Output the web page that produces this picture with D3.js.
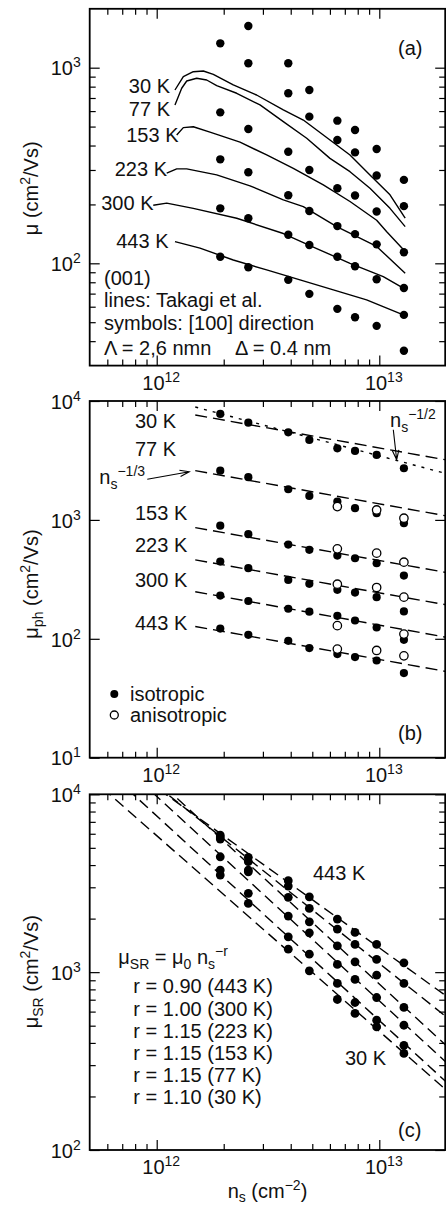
<!DOCTYPE html>
<html><head><meta charset="utf-8">
<script src="https://cdn.jsdelivr.net/npm/d3@7/dist/d3.min.js"></script>
<style>
html,body{margin:0;padding:0;background:#fff}
svg{display:block}
</style></head>
<body>
<svg id="chart" width="446" height="1206"></svg>
<script>
// ================= DATA =================
const NS = [1.93e12, 2.58e12, 3.9e12, 4.85e12, 6.48e12, 7.78e12, 9.73e12, 1.29e13];
const TEMPS = ["30 K", "77 K", "153 K", "223 K", "300 K", "443 K"];
const X_MAJOR = [1e12, 1e13];
const Y_MAJOR_A = [1e2, 1e3];
const Y_MAJOR_B = [1e1, 1e2, 1e3, 1e4];
const Y_MAJOR_C = [1e2, 1e3, 1e4];

// (a) symbols: [100] direction
const symA_30  = [null, 1633, 1053, 769, 536, 480, 384, 267];
const symA_77  = [1332, 1053, 740, 562, 427, 369, 281, 196];
const symA_153 = [591, 486, 372, 300, 242, 222, 184, 114];
const symA_223 = [340, 292, 223, 185, 155, 141, 125, 74.8];
const symA_300 = [191, 170, 140, 124, 108, 96.6, 82.9, 54.5];
const symA_443 = [108, 95.5, 82.3, 69.8, 58.5, 53.0, 47.9, 35.7];

// (a) lines: Takagi et al. [ns, mu]
const takagi_30  = [[1.208e12,769],[1.317e12,900],[1.46e12,954],[1.62e12,962],[1.796e12,925],[2.208e12,816],[2.81e12,725],[3.705e12,608],[4.557e12,540],[6.004e12,427],[7.385e12,358],[9.08e12,283],[1.117e13,224],[1.307e13,170]];
const takagi_77  = [[1.208e12,645],[1.295e12,785],[1.364e12,855],[1.512e12,883],[1.677e12,865],[1.86e12,809],[2.288e12,740],[2.911e12,645],[3.705e12,530],[4.72e12,436],[6.004e12,344],[7.385e12,294],[9.08e12,242],[1.117e13,191],[1.307e13,154]];
const takagi_153 = [[1.23e12,453],[1.317e12,494],[1.46e12,499],[1.735e12,468],[2.367e12,416],[3.119e12,358],[4.109e12,306],[5.603e12,252],[7.385e12,207],[9.73e12,166],[1.08e13,145],[1.307e13,115]];
const takagi_223 = [[1.109e12,289],[1.23e12,304],[1.364e12,304],[1.86e12,283],[2.625e12,249],[3.705e12,211],[4.557e12,195],[6.436e12,154],[9.73e12,122],[1.307e13,89]];
const takagi_300 = [[9.65e11,198],[1.109e12,203],[1.46e12,191],[2.288e12,170],[3.705e12,142],[5.234e12,119],[7.385e12,100],[1.042e13,85.5],[1.282e13,74.6]];
const takagi_443 = [[1.208e12,129],[1.565e12,119.5],[2.208e12,104],[3.119e12,92.5],[4.403e12,82.3],[6.216e12,73.1],[8.77e12,65],[1.282e13,54.5]];

// (b) phonon mobility, isotropic (filled)
const isoB_30  = [7780, 6570, 5457, 4703, 4003, 3802, 3516, 2720];
const isoB_77  = [2596, 2286, 1811, 1591, 1425, 1254, 1138, 938];
const isoB_153 = [895, 758, 620, 560, 501, 476, 432, 340];
const isoB_223 = [446, 393, 313, 290, 258, 245, 224, 170];
const isoB_300 = [231, 208, 179, 169, 156, 142.6, 124.5, 98.1];
const isoB_443 = [122, 108, 96.2, 83.5, 74.4, 70.2, 65.7, 51.5];
// (b) anisotropic (open)
const NS_ANISO = [6.48e12, 9.73e12, 1.29e13];
const anisoB_77  = [1294, 1213, 1033];
const anisoB_153 = [571, 525, 441];
const anisoB_223 = [288, 270, 224];
const anisoB_300 = [129, null, 109.5];
const anisoB_443 = [81.9, 79.8, 71.9];
// (b) fit lines: ns^-1/3 (dashed), ns^-1/2 (dotted), values at FIT_B_NS
const FIT_B_NS = [1.49e12, 2e13];
const fitB_30  = [7628, 3192];
const fitB_77  = [2596, 1080];
const fitB_153 = [861, 361];
const fitB_223 = [461, 193];
const fitB_300 = [249, 103];
const fitB_443 = [127, 53.1];
const dotB_30  = [8900, 2450];

// (c) surface roughness mobility
const srC_443 = [5902, 4421, 3266, 2653, 1987, 1673, 1432, 1128];
const srC_300 = [5750, 4178, 3048, 2283, 1746, 1432, 1179, 864];
const srC_223 = [5600, 3750, 2633, 1919, 1406, 1143, 962, 633];
const srC_153 = [4454, 3668, 2066, 1664, 1105, 910, 720, 503];
const srC_77  = [3750, 2773, 1580, 1262, 864, 675, 537, 388];
const srC_30  = [3515, 2436, 1347, 1017, 702, 586, 492, 349];
// (c) fit lines mu0 ns^-r, values at FIT_C_NS
const FIT_C_NS = [5e11, 2e13];
const fitC_443 = [20306, 734];
const fitC_300 = [22400, 560];
const fitC_223 = [26830, 386];
const fitC_153 = [21627, 311];
const fitC_77  = [16769, 241];
const fitC_30  = [12548, 217];
const R_TEXT = ["r = 0.90 (443 K)", "r = 1.00 (300 K)", "r = 1.15 (223 K)", "r = 1.15 (153 K)", "r = 1.15 (77 K)", "r = 1.10 (30 K)"];

// ================= RENDER =================
const svg = d3.select("#chart");
const FONT = "'Liberation Sans', Arial, Helvetica, sans-serif";
const FS = 20, FS_SMALL = 14;
svg.attr("font-family", FONT);
const x = d3.scaleLog().domain([5e11, 2e13]).range([89.7, 446.3]);
const xL = 89.7, xR = 445.2;

function rich(t, parts) {
  let cur = 0;
  parts.forEach(p => {
    const s = typeof p === "string" ? p : p[0];
    const k = typeof p === "string" ? "n" : p[1];
    let target = k === "sup" ? -8 : (k === "sub" ? 5 : 0);
    if (typeof p !== "string" && p[2] != null) target = p[2];
    const ts = t.append("tspan").text(s);
    if (target - cur !== 0) ts.attr("dy", target - cur);
    if (k !== "n") ts.attr("font-size", FS_SMALL);
    cur = target;
  });
  return t;
}
function label(g, xp, yp, parts, anchor) {
  const t = g.append("text").attr("x", xp).attr("y", yp)
    .attr("font-size", FS).attr("fill", "#111")
    .attr("text-anchor", anchor || "start");
  return rich(t, typeof parts === "string" ? [parts] : parts);
}
const isPow10 = v => Math.abs(Math.log10(v) - Math.round(Math.log10(v))) < 1e-9;
function styleAxis(sel) {
  sel.select(".domain").remove();
  sel.selectAll(".tick line").attr("stroke", "#000").attr("stroke-width", 1.2);
}
function powLabel(sel, opts) {
  sel.selectAll(".tick text").each(function(d) {
    const t = d3.select(this).text(null)
      .attr("font-size", FS).attr("font-family", FONT).attr("fill", "#111");
    Object.entries(opts).forEach(([k, v]) => t.attr(k, v));
    rich(t, ["10", [String(Math.round(Math.log10(d))), "sup"]]);
  });
}
function arrow(g, p0, p1) {
  const a = Math.atan2(p1[1] - p0[1], p1[0] - p0[0]);
  const L = 10, h = 0.33;
  const b1 = [p1[0] - L * Math.cos(a - h), p1[1] - L * Math.sin(a - h)];
  const b2 = [p1[0] - L * Math.cos(a + h), p1[1] - L * Math.sin(a + h)];
  g.append("path")
    .attr("d", `M${p0}L${p1}M${b1}L${p1}L${b2}`)
    .attr("fill", "none").attr("stroke", "#000").attr("stroke-width", 1.1);
}

function panel(id, y, yMajor, withYMinor) {
  const g = svg.append("g");
  const [yB, yT] = y.range();
  svg.append("clipPath").attr("id", "clip-" + id).append("rect")
    .attr("x", xL).attr("y", yT).attr("width", xR - xL).attr("height", yB - yT);
  const xMinor = x.ticks().filter(v => !isPow10(v) && x(v) > xL + 1 && x(v) < xR - 1);
  const yMinor = withYMinor ? y.ticks().filter(v => !isPow10(v) && y(v) < yB - 1 && y(v) > yT + 1) : [];
  const ax = g.append("g");
  // bottom
  ax.append("g").attr("transform", `translate(0,${yB})`)
    .call(d3.axisBottom(x).tickValues(X_MAJOR).tickSize(-10).tickSizeOuter(0).tickFormat(() => ""))
    .call(styleAxis).call(powLabel, {y: 24, dy: null, dx: 4, "text-anchor": "middle"});
  ax.append("g").attr("transform", `translate(0,${yB})`)
    .call(d3.axisBottom(x).tickValues(xMinor).tickSize(-6).tickSizeOuter(0).tickFormat(() => ""))
    .call(styleAxis).call(s => s.selectAll("text").remove());
  // top
  ax.append("g").attr("transform", `translate(0,${yT})`)
    .call(d3.axisTop(x).tickValues(X_MAJOR).tickSize(-10).tickSizeOuter(0).tickFormat(() => ""))
    .call(styleAxis).call(s => s.selectAll("text").remove());
  ax.append("g").attr("transform", `translate(0,${yT})`)
    .call(d3.axisTop(x).tickValues(xMinor).tickSize(-6).tickSizeOuter(0).tickFormat(() => ""))
    .call(styleAxis).call(s => s.selectAll("text").remove());
  // left
  ax.append("g").attr("transform", `translate(${xL},0)`)
    .call(d3.axisLeft(y).tickValues(yMajor).tickSize(-10).tickSizeOuter(0).tickFormat(() => ""))
    .call(styleAxis).call(powLabel, {x: -9, dy: "0.36em", "text-anchor": "end"});
  ax.append("g").attr("transform", `translate(${xL},0)`)
    .call(d3.axisLeft(y).tickValues(yMinor).tickSize(-6).tickSizeOuter(0).tickFormat(() => ""))
    .call(styleAxis).call(s => s.selectAll("text").remove());
  // right
  ax.append("g").attr("transform", `translate(${xR},0)`)
    .call(d3.axisRight(y).tickValues(yMajor).tickSize(-10).tickSizeOuter(0).tickFormat(() => ""))
    .call(styleAxis).call(s => s.selectAll("text").remove());
  ax.append("g").attr("transform", `translate(${xR},0)`)
    .call(d3.axisRight(y).tickValues(yMinor).tickSize(-6).tickSizeOuter(0).tickFormat(() => ""))
    .call(styleAxis).call(s => s.selectAll("text").remove());

  const plot = g.append("g").attr("clip-path", `url(#clip-${id})`);
  const over = g.append("g");
  const frame = () => g.append("rect").attr("x", xL).attr("y", yT)
    .attr("width", xR - xL).attr("height", yB - yT)
    .attr("fill", "none").attr("stroke", "#000").attr("stroke-width", 1.8);
  return {g, plot, over, frame, y};
}
const pairs = (xs, ys) => xs.map((n, i) => [n, ys[i]]).filter(d => d[1] != null);
function dots(g, y, data, r, open) {
  g.selectAll(null).data(data).join("circle")
    .attr("cx", d => x(d[0])).attr("cy", d => y(d[1])).attr("r", r)
    .attr("fill", open ? "#fff" : "#000")
    .attr("stroke", "#000").attr("stroke-width", open ? 1.3 : 0);
}

// ---------- panel (a) ----------
const yA = d3.scaleLog().domain([30, 2000]).range([365.6, 8.8]);
const A = panel("a", yA, Y_MAJOR_A, true);
const lineA = d3.line().x(d => x(d[0])).y(d => yA(d[1]));
A.plot.selectAll("path.tk").data([takagi_30, takagi_77, takagi_153, takagi_223, takagi_300, takagi_443])
  .join("path").attr("class", "tk").attr("d", lineA)
  .attr("fill", "none").attr("stroke", "#000").attr("stroke-width", 1.4).attr("stroke-linejoin", "round");
[symA_30, symA_77, symA_153, symA_223, symA_300, symA_443].forEach(s => dots(A.over, yA, pairs(NS, s), 4.2, false));
[[170, 92.5], [170, 115.5], [178.5, 141.5], [167, 176], [153.5, 209.5], [168.5, 248]]
  .forEach((p, i) => label(A.over, p[0], p[1], TEMPS[i], "end"));
label(A.over, 398, 55, "(a)");
label(A.over, 104, 285, "(001)");
label(A.over, 104, 307, "lines: Takagi et al.");
label(A.over, 104, 330, "symbols: [100] direction");
label(A.over, 104, 355, "Λ = 2,6 nmn");
label(A.over, 235, 355, "Δ = 0.4 nm");
A.frame();

// ---------- panel (b) ----------
const yB = d3.scaleLog().domain([10, 1e4]).range([757.7, 401]);
const B = panel("b", yB, Y_MAJOR_B, false);
const lineB = d3.line().x(d => x(d[0])).y(d => yB(d[1]));
B.plot.selectAll("path.fit").data([fitB_30, fitB_77, fitB_153, fitB_223, fitB_300, fitB_443])
  .join("path").attr("class", "fit").attr("d", v => lineB(pairs(FIT_B_NS, v)))
  .attr("fill", "none").attr("stroke", "#000").attr("stroke-width", 1.4).attr("stroke-dasharray", "12,6");
B.plot.append("path").attr("d", lineB(pairs(FIT_B_NS, dotB_30)))
  .attr("fill", "none").attr("stroke", "#000").attr("stroke-width", 1.4).attr("stroke-dasharray", "3,6");
[isoB_30, isoB_77, isoB_153, isoB_223, isoB_300, isoB_443].forEach(s => dots(B.over, yB, pairs(NS, s), 4.1, false));
[anisoB_77, anisoB_153, anisoB_223, anisoB_300, anisoB_443].forEach(s => dots(B.over, yB, pairs(NS_ANISO, s), 4.2, true));
[[135, 428], [135, 456], [135, 519.5], [135, 551.5], [135, 586.5], [135, 630]]
  .forEach((p, i) => label(B.over, p[0], p[1], TEMPS[i], "start"));
label(B.over, 99.3, 484, ["n", ["s", "sub"], ["−1/3", "sup"]]);
arrow(B.over, [x(9.07e11), yB(2195)], [x(1.401e12), yB(2543)]);
label(B.over, 390, 427, ["n", ["s", "sub"], ["−1/2", "sup"]]);
arrow(B.over, [x(1.156e13), yB(5736)], [x(1.197e13), yB(3209)]);
const LEGEND = ["isotropic", "anisotropic"];
LEGEND.forEach((t, i) => {
  B.over.append("circle").attr("cx", 114.3).attr("cy", 694 + i * 21).attr("r", 4)
    .attr("fill", i ? "#fff" : "#000").attr("stroke", "#000").attr("stroke-width", i ? 1.3 : 0);
  label(B.over, 130, 700.5 + i * 21.5, t);
});
label(B.over, 398, 740, "(b)");
B.frame();

// ---------- panel (c) ----------
const yC = d3.scaleLog().domain([100, 1e4]).range([1150, 794.3]);
const C = panel("c", yC, Y_MAJOR_C, true);
const lineC = d3.line().x(d => x(d[0])).y(d => yC(d[1]));
C.plot.selectAll("path.fit").data([fitC_443, fitC_300, fitC_223, fitC_153, fitC_77, fitC_30])
  .join("path").attr("class", "fit").attr("d", v => lineC(pairs(FIT_C_NS, v)))
  .attr("fill", "none").attr("stroke", "#000").attr("stroke-width", 1.4).attr("stroke-dasharray", "11,6");
[srC_443, srC_300, srC_223, srC_153, srC_77, srC_30].forEach(s => dots(C.over, yC, pairs(NS, s), 4.4, false));
label(C.over, 313, 880, TEMPS[5]);
label(C.over, 345, 1064.5, TEMPS[0]);
label(C.over, 118.3, 964, ["μ", ["SR", "sub"], " = μ", ["0", "sub"], " n", ["s", "sub"], ["−r", "sup"]]);
R_TEXT.forEach((t, i) => label(C.over, 133.3, 993.3 + i * 22.2, t));
label(C.over, 398, 1137, "(c)");
C.frame();

// ---------- axis titles ----------
const titles = [
  [188.3, ["μ (cm", ["2", "sup"], "/Vs)"]],
  [584, ["μ", ["ph", "sub"], " (cm", ["2", "sup"], "/Vs)"]],
  [971.7, ["μ", ["SR", "sub"], " (cm", ["2", "sup"], "/Vs)"]]
];
titles.forEach(([cy, parts]) => {
  const t = svg.append("text").attr("transform", `translate(38,${cy}) rotate(-90)`)
    .attr("text-anchor", "middle").attr("font-size", FS).attr("fill", "#111");
  rich(t, parts);
});
label(svg, 267.5, 1198, ["n", ["s", "sub", 4], " (cm", ["−2", "sup"], ")"], "middle");
</script>
</body></html>
